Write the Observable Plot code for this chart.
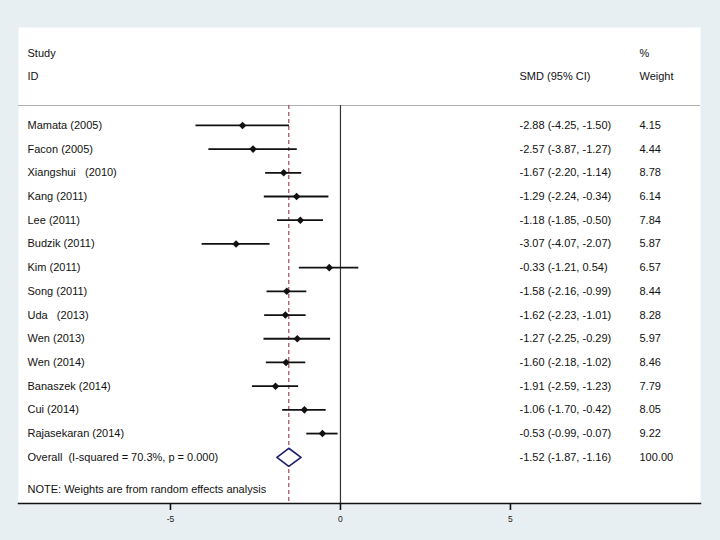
<!DOCTYPE html>
<html>
<head>
<meta charset="utf-8">
<script src="https://cdn.jsdelivr.net/npm/d3@7"></script>
<script src="https://cdn.jsdelivr.net/npm/@observablehq/plot@0.6"></script>
<style>
  html, body { margin: 0; padding: 0; background: #e8eff2; }
  #chart svg { display: block; white-space: pre; }
</style>
</head>
<body>
<div id="chart"></div>
<script>
const studies = ["Mamata (2005)", "Facon (2005)", "Xiangshui   (2010)", "Kang (2011)", "Lee (2011)", "Budzik (2011)", "Kim (2011)", "Song (2011)", "Uda   (2013)", "Wen (2013)", "Wen (2014)", "Banaszek (2014)", "Cui (2014)", "Rajasekaran (2014)"];
const smd    = [-2.88, -2.57, -1.67, -1.29, -1.18, -3.07, -0.33, -1.58, -1.62, -1.27, -1.60, -1.91, -1.06, -0.53];
const ciLow  = [-4.25, -3.87, -2.20, -2.24, -1.85, -4.07, -1.21, -2.16, -2.23, -2.25, -2.18, -2.59, -1.70, -0.99];
const ciHigh = [-1.50, -1.27, -1.14, -0.34, -0.50, -2.07,  0.54, -0.99, -1.01, -0.29, -1.02, -1.23, -0.42, -0.07];
const weights = [4.15, 4.44, 8.78, 6.14, 7.84, 5.87, 6.57, 8.44, 8.28, 5.97, 8.46, 7.79, 8.05, 9.22];
const overallLabel = "Overall  (I-squared = 70.3%, p = 0.000)";
const overallEst = -1.52, overallLow = -1.87, overallHigh = -1.16, overallWeight = 100.00;
const noteText = "NOTE: Weights are from random effects analysis";
const tickValues = [-5, 0, 5];

const f = v => v.toFixed(2);
const rows = studies.map((s, i) => ({
  study: s, row: i, smd: smd[i], lo: ciLow[i], hi: ciHigh[i],
  ci: `${f(smd[i])} (${f(ciLow[i])}, ${f(ciHigh[i])})`, w: f(weights[i])
}));
const overallRow = studies.length;
const textRows = rows.map(r => ({label: r.study, row: r.row, ci: r.ci, w: r.w}))
  .concat([{label: overallLabel, row: overallRow,
            ci: `${f(overallEst)} (${f(overallLow)}, ${f(overallHigh)})`, w: f(overallWeight)}]);
const dh = 0.38;
const diamond = [
  {x: overallLow, y: overallRow}, {x: overallEst, y: overallRow - dh},
  {x: overallHigh, y: overallRow}, {x: overallEst, y: overallRow + dh},
  {x: overallLow, y: overallRow}
];

const sepRow = -0.84, bottomRow = 15.95;
const font = "Liberation Sans, Arial, Helvetica, sans-serif";

const chart = Plot.plot({
  width: 720, height: 540,
  marginLeft: 18, marginRight: 20, marginTop: 27, marginBottom: 37,
  style: {background: "#e8eff2", fontFamily: font, fontSize: "11px", color: "#111"},
  x: {domain: [-9.47, 10.59]},
  y: {domain: [-4.13, bottomRow], reverse: true, axis: null},
  marks: [
    Plot.frame({fill: "white", stroke: "none"}),
    Plot.ruleY([sepRow], {stroke: "#b0b0b0", strokeWidth: 1}),
    Plot.ruleX([0], {y1: sepRow, y2: bottomRow, stroke: "#333", strokeWidth: 1.2}),
    Plot.ruleX([overallEst], {y1: sepRow, y2: bottomRow, stroke: "#a34452", strokeWidth: 1.2, strokeDasharray: "4,3"}),
    Plot.ruleY(rows, {y: "row", x1: "lo", x2: "hi", stroke: "#111", strokeWidth: 1.8}),
    Plot.dot(rows, {x: "smd", y: "row", symbol: "diamond2", r: 3.4, fill: "#111", stroke: "none"}),
    Plot.line(diamond, {x: "x", y: "y", stroke: "#1c1c6e", strokeWidth: 1.6, fill: "white"}),
    // Header
    Plot.text(["Study"], {y: () => -3.04, frameAnchor: "left", dx: 9, textAnchor: "start", fill: "#111"}),
    Plot.text(["ID"], {y: () => -2.07, frameAnchor: "left", dx: 9, textAnchor: "start", fill: "#111"}),
    Plot.text(["SMD (95% CI)"], {y: () => -2.07, frameAnchor: "right", dx: -181, textAnchor: "start", fill: "#111"}),
    Plot.text(["%"], {y: () => -3.04, frameAnchor: "right", dx: -61, textAnchor: "start", fill: "#111"}),
    Plot.text(["Weight"], {y: () => -2.07, frameAnchor: "right", dx: -61, textAnchor: "start", fill: "#111"}),
    // Rows
    Plot.text(textRows, {y: "row", text: "label", frameAnchor: "left", dx: 9, textAnchor: "start", fill: "#111"}),
    Plot.text(textRows, {y: "row", text: "ci", frameAnchor: "right", dx: -181, textAnchor: "start", fill: "#111"}),
    Plot.text(textRows, {y: "row", text: "w", frameAnchor: "right", dx: -61, textAnchor: "start", fill: "#111"}),
    Plot.text([noteText], {y: () => 15.36, frameAnchor: "left", dx: 9, textAnchor: "start", fill: "#111"}),
    // Axis
    Plot.frame({anchor: "bottom", stroke: "#111", strokeWidth: 1.5}),
    Plot.axisX({ticks: tickValues, tickFormat: d => String(d), tickSize: 7, tickPadding: 5, fontSize: 8.5, stroke: "#111", strokeWidth: 1.6, fill: "#222", label: null})
  ]
});
document.getElementById("chart").appendChild(chart);
</script>
</body>
</html>
